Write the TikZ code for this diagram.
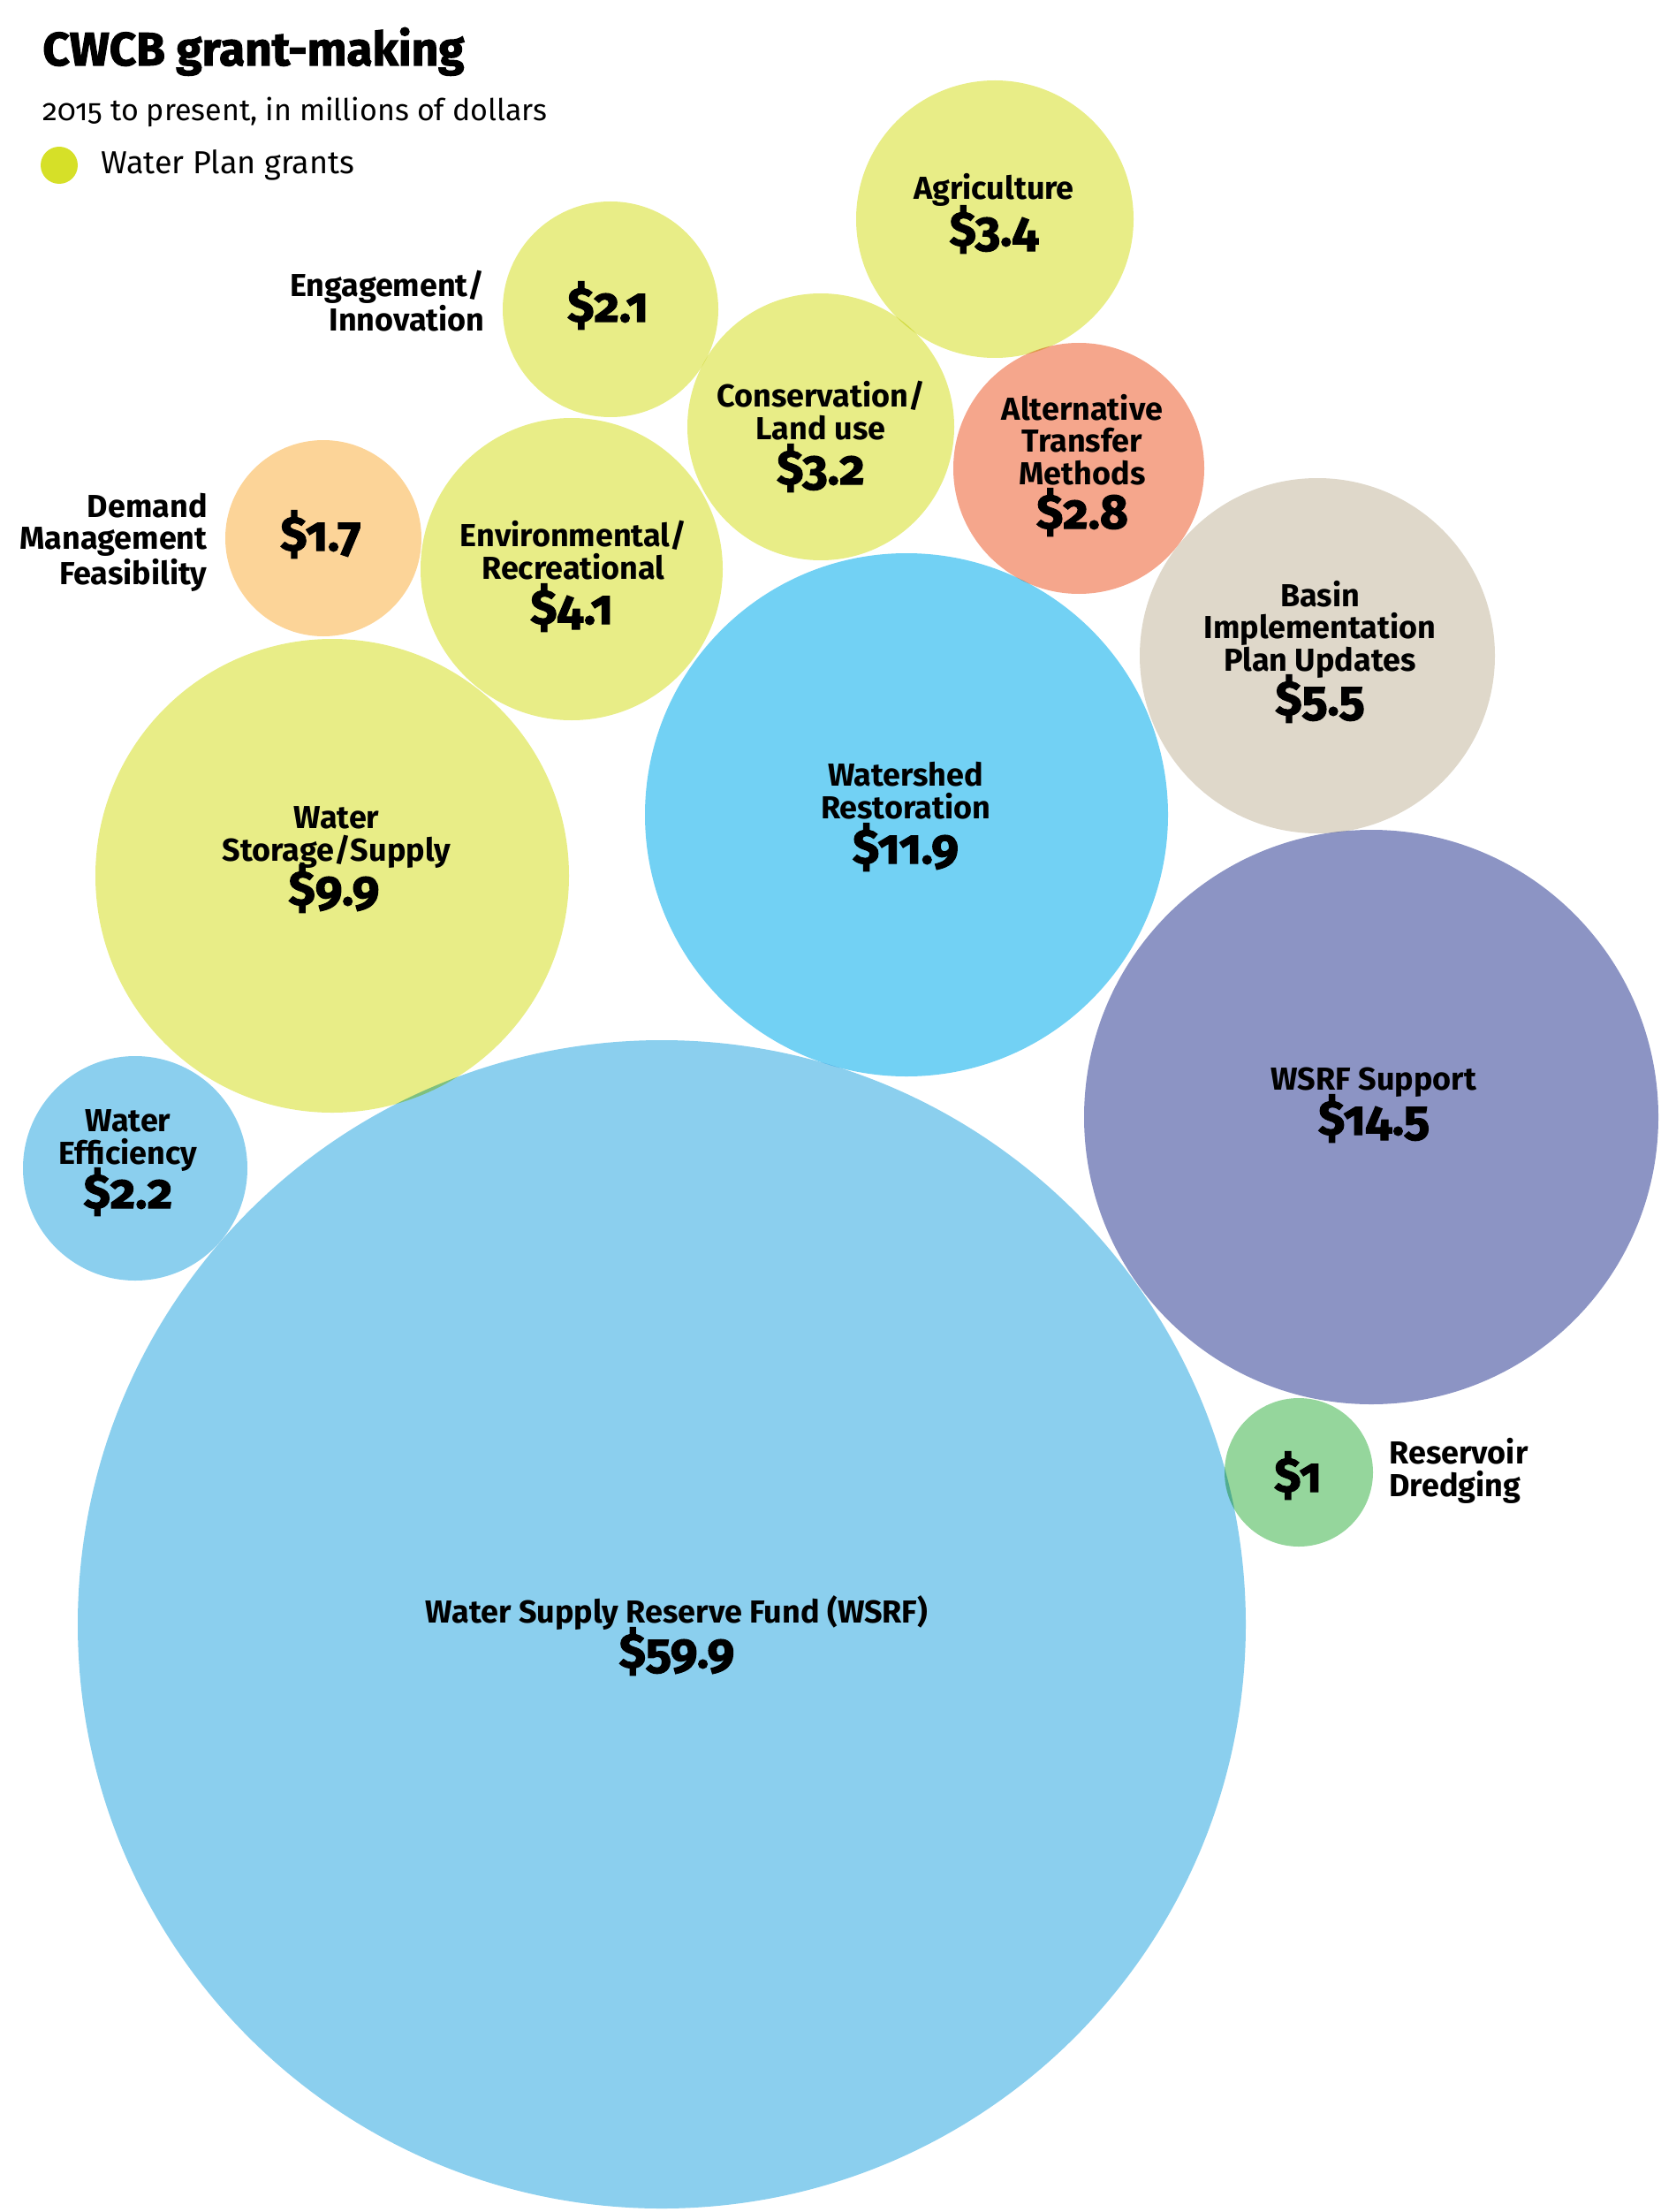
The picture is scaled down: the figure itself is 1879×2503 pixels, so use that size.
\documentclass[tikz,border=0pt]{standalone}
\usepackage{fontspec}
\setmainfont{Fira Sans}
\newfontfamily\heavyfont{Fira Sans}[RawFeature={+onum}, BoldFeatures={FakeBold=2}]
\newfontfamily\lightfont{Fira Sans}[RawFeature={+onum}]
\usetikzlibrary{positioning}
\definecolor{plan}{HTML}{E8ED87}
\definecolor{plandot}{HTML}{D6E028}
\definecolor{demand}{HTML}{FCD498}
\definecolor{transfer}{HTML}{F5A68C}
\definecolor{basin}{HTML}{DFD8CA}
\definecolor{shed}{HTML}{72D1F4}
\definecolor{wsrf}{HTML}{8BCFEE}
\definecolor{support}{HTML}{8C94C4}
\definecolor{dredge}{HTML}{95D69C}

\begin{document}
\begin{tikzpicture}[x=0.5pt, y=-0.5pt,
    head/.style={font=\heavyfont\bfseries\fontsize{26.5}{27}\selectfont, inner sep=0pt, anchor=base west},
    sub/.style={font=\lightfont\fontsize{17}{18}\selectfont, inner sep=0pt, anchor=base west},
    lbl/.style={font=\bfseries\fontsize{18}{18.25}\selectfont, inner sep=0pt, align=center, anchor=base},
    val/.style={font=\heavyfont\bfseries\fontsize{27.5}{28}\selectfont, inner sep=0pt, anchor=base}]
        \useasboundingbox (0,0) rectangle (1879,2503);
        % header and key
        \node[head] (title) at (48,74) {CWCB grant-making};
        \node[sub] (subtitle) at (48,137) {2015 to present, in millions of dollars};
        \node[circle, fill=plandot, minimum size=21pt, inner sep=0pt] (key) at (67,187) {};
        \node[sub, font=\lightfont\fontsize{18}{18}\selectfont] (keytext) at (114,197) {Water Plan grants};

        % bubbles
        \begin{scope}[blend mode=multiply]
            \fill[plan] (1126,248) circle[radius=157];
            \fill[plan] (691,350) circle[radius=122];
            \fill[plan] (929,483) circle[radius=151];
            \fill[transfer] (1221,530) circle[radius=142];
            \fill[demand] (366,609) circle[radius=111];
            \fill[plan] (647,644) circle[radius=171];
            \fill[basin] (1491,742) circle[radius=201];
            \fill[shed] (1026,922) circle[radius=296];
            \fill[plan] (376,991) circle[radius=268];
            \fill[wsrf] (153,1322) circle[radius=127];
            \fill[support] (1552,1264) circle[radius=325];
            \fill[wsrf] (749,1838) circle[radius=661];
            \fill[dredge] (1470,1666) circle[radius=84];
        \end{scope}

        % labels (base = last line)
        \node[lbl] (agrilbl) at (1125,226) {Agriculture};
        \node[val] (agrival) at (1125,278) {\$3.4};
        \node[lbl, align=right, anchor=base east] (englbl) at (549,375) {Engagement/\\Innovation};
        \node[val] (engval) at (688,364) {\$2.1};
        \node[lbl] (conslbl) at (929,497) {Conservation/\\Land use};
        \node[val] (consval) at (929,548) {\$3.2};
        \node[lbl] (altlbl) at (1225,548) {Alternative\\Transfer\\Methods};
        \node[val] (altval) at (1225,598) {\$2.8};
        \node[lbl, align=right, anchor=base east] (demlbl) at (235,661) {Demand\\Management\\Feasibility};
        \node[val] (demval) at (363,623) {\$1.7};
        \node[lbl] (envlbl) at (649,655) {Environmental/\\Recreational};
        \node[val] (envval) at (647,706) {\$4.1};
        \node[lbl] (basinlbl) at (1494,759) {Basin\\Implementation\\Plan Updates};
        \node[val] (basinval) at (1494,809) {\$5.5};
        \node[lbl] (shedlbl) at (1025,926) {Watershed\\Restoration};
        \node[val] (shedval) at (1025,977) {\$11.9};
        \node[lbl] (storlbl) at (381,974) {Water\\Storage/Supply};
        \node[val] (storval) at (378,1024) {\$9.9};
        \node[lbl] (efflbl) at (145,1317) {Water\\Efficiency};
        \node[val] (effval) at (145,1367) {\$2.2};
        \node[lbl] (suplbl) at (1555,1233) {WSRF Support};
        \node[val] (supval) at (1555,1284) {\$14.5};
        \node[lbl] (wsrflbl) at (766,1836) {Water Supply Reserve Fund (WSRF)};
        \node[val] (wsrfval) at (766,1887) {\$59.9};
        \node[lbl, align=left, anchor=base west] (dredlbl) at (1572,1693) {Reservoir\\Dredging};
        \node[val] (dredval) at (1469,1688) {\$1};
    \end{tikzpicture}
\end{document}
